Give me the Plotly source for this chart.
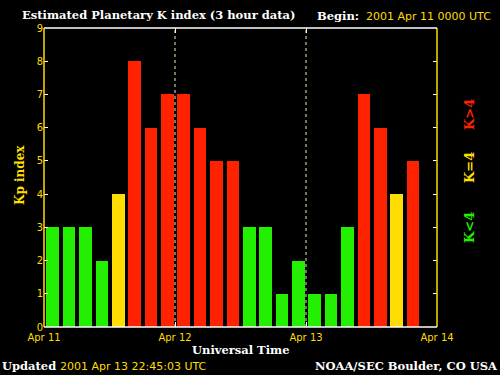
import plotly.graph_objects as go

# Data
kp_values = [3, 3, 3, 2, 4, 8, 6, 7, 7, 6, 5, 5, 3, 3, 1, 2, 1, 1, 3, 7, 6, 4, 5]
hours_start = [3 * i for i in range(len(kp_values))]
day_ticks = [0, 24, 48, 72]
day_labels = ["Apr 11", "Apr 12", "Apr 13", "Apr 14"]
y_ticks = list(range(10))

GREEN = "#22F000"
YELLOW = "#FFDD00"
RED = "#FF2200"

def color_for(v):
    if v < 4:
        return GREEN
    if v == 4:
        return YELLOW
    return RED

bar_colors = [color_for(v) for v in kp_values]
x_centers = [h + 1.6 for h in hours_start]

fig = go.Figure()
fig.add_trace(go.Bar(
    x=x_centers, y=kp_values, width=2.3,
    marker=dict(color=bar_colors, line=dict(width=0)),
    hoverinfo="skip", showlegend=False,
))

# plot area in pixels
L, R, T, B = 44, 437, 28, 327
W, H = 500, 375
def px(xp):
    return (xp - L) / (R - L)
def py(yp):
    return (B - yp) / (B - T)

SERIF = "DejaVu Serif"
SANS = "DejaVu Sans"

fig.update_layout(
    width=W, height=H,
    margin=dict(l=L, r=W - R, t=T, b=H - B, autoexpand=False),
    paper_bgcolor="black", plot_bgcolor="black",
    bargap=0,
    xaxis=dict(
        range=[0, 72], showgrid=False, zeroline=False, showline=False,
        tickvals=day_ticks, ticktext=day_labels,
        ticks="inside", ticklen=5, tickcolor="white", tickwidth=1,
        mirror="ticks", ticklabelstandoff=3,
        tickfont=dict(family=SANS, size=10, color=YELLOW),
        minor=dict(dtick=3, tick0=0, ticks="inside", ticklen=5, tickcolor="black", tickwidth=1),
        fixedrange=True,
    ),
    yaxis=dict(
        range=[0, 9], showgrid=False, zeroline=False, showline=False,
        tickvals=y_ticks,
        ticks="inside", ticklen=4, tickcolor="white", tickwidth=1,
        mirror="ticks",
        tickfont=dict(family=SANS, size=10, color=YELLOW),
        fixedrange=True,
    ),
)

# frame lines
fig.add_shape(type="line", xref="paper", yref="paper", x0=0, x1=0, y0=0, y1=1,
              line=dict(color=YELLOW, width=1.5))
fig.add_shape(type="line", xref="paper", yref="paper", x0=1, x1=1, y0=0, y1=1,
              line=dict(color=YELLOW, width=1.5))
fig.add_shape(type="line", xref="paper", yref="paper", x0=0, x1=1, y0=1, y1=1,
              line=dict(color="white", width=1.5))
fig.add_shape(type="line", xref="paper", yref="paper", x0=0, x1=1, y0=0, y1=0,
              line=dict(color="white", width=1.5))

# dotted day separators
for d in day_ticks[1:3]:
    fig.add_shape(type="line", xref="x", yref="paper", x0=d, x1=d, y0=0, y1=1,
                  line=dict(color="#EEEEBB", width=1, dash="dot"), layer="below")

def ann(text, x, y, color, family, size, xanchor="center", bold=False, angle=0):
    fig.add_annotation(
        text=("<b>%s</b>" % text) if bold else text,
        xref="paper", yref="paper", x=px(x), y=py(y),
        xanchor=xanchor, yanchor="middle", showarrow=False,
        textangle=angle,
        font=dict(family=family, size=size, color=color),
    )

ann("Estimated Planetary K index (3 hour data)", 20, 15, "white", SERIF, 11.5, "left", True)
ann("Begin:", 315, 16, "white", SERIF, 11.5, "left", True)
ann("2001 Apr 11 0000 UTC", 364, 16, YELLOW, SANS, 11, "left")
ann("Kp index", 20, 175, YELLOW, SERIF, 12, "center", True, -90)
ann("K&gt;4", 469, 115, RED, SERIF, 13, "center", True, -90)
ann("K=4", 469, 168, YELLOW, SERIF, 13, "center", True, -90)
ann("K&lt;4", 469, 228, GREEN, SERIF, 13, "center", True, -90)
ann("Universal Time", 241, 350, "white", SERIF, 11.5, "center", True)
ann("Updated", 0, 366, "white", SERIF, 11.5, "left", True)
ann("2001 Apr 13 22:45:03 UTC", 58, 366, YELLOW, SANS, 11, "left")
ann("NOAA/SEC Boulder, CO USA", 500, 366, "white", SERIF, 11.5, "right", True)

fig.write_html("out.html", config={"displayModeBar": False},
               post_script="document.body.style.margin='0';")
